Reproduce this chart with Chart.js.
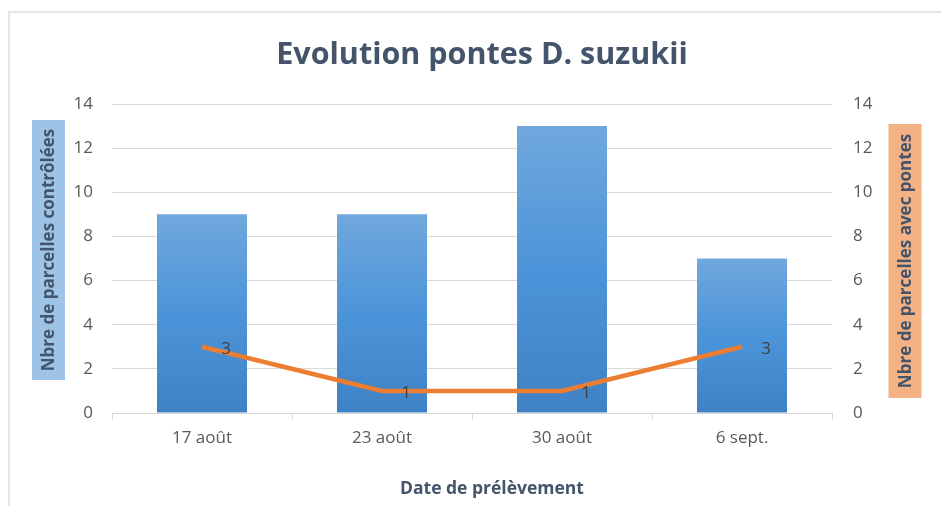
<!DOCTYPE html>
<html>
<head>
<meta charset="utf-8">
<script src="https://cdn.jsdelivr.net/npm/chart.js@4"></script>
<style>
    html, body { margin: 0; padding: 0; background: #fff; }
    #wrap { position: relative; width: 941px; height: 506px; overflow: hidden; }
    #frame { position: absolute; left: 8px; top: 11px; width: 960px; height: 520px; border: 2px solid #e2e5ea; }
    canvas { position: absolute; left: 0; top: 0; }
</style>
</head>
<body>
<div id="wrap">
    <div id="frame"></div>
    <canvas id="pontesChart" width="941" height="506"></canvas>
</div>
<script>
const dates = ['17 août', '23 août', '30 août', '6 sept.'];
const parcellesControlees = [9, 9, 13, 7];
const parcellesAvecPontes = [3, 1, 1, 3];
const yTicks = [0, 2, 4, 6, 8, 10, 12, 14];

const chartTitle = 'Evolution pontes D. suzukii';
const xTitle = 'Date de prélèvement';
const leftTitle = 'Nbre de parcelles contrôlées';
const rightTitle = 'Nbre de parcelles avec pontes';

const FONT = '"Open Sans", Lato, sans-serif';
const titleColor = '#44546A';
const tickColor = '#595959';
const gridColor = '#d9d9d9';

// titles, coloured axis-title boxes and the value labels of the line
const excelBits = {
    id: 'excelBits',
    beforeDraw(chart) {
        const c = chart.ctx;
        const area = chart.chartArea;
        c.save();
        c.fillStyle = titleColor;
        c.textAlign = 'center';
        c.textBaseline = 'alphabetic';
        c.font = 'bold 30.5px ' + FONT;
        c.fillText(chartTitle, 482, 64);
        c.font = 'bold 17.5px ' + FONT;
        c.fillText(xTitle, 492, 494);

        const drawBox = (text, cx, cy, h, bg) => {
            c.save();
            c.translate(cx, cy);
            c.rotate(-Math.PI / 2);
            c.font = 'bold 17px ' + FONT;
            c.fillStyle = bg;
            c.fillRect(-h / 2, -16.5, h, 33);
            c.fillStyle = titleColor;
            c.textAlign = 'center';
            c.textBaseline = 'middle';
            c.fillText(text, 0, 1);
            c.restore();
        };
        drawBox(leftTitle, area.left - 63.5, area.top + 146, 260, '#9DC3E6');
        drawBox(rightTitle, area.right + 73, area.top + 157, 274, '#F4B183');
        c.restore();
    },
    afterDatasetsDraw(chart) {
        const c = chart.ctx;
        const meta = chart.getDatasetMeta(1);
        c.save();
        c.fillStyle = '#404040';
        c.font = '17px ' + FONT;
        c.textAlign = 'center';
        c.textBaseline = 'middle';
        meta.data.forEach((pt, i) => {
            c.fillText(String(parcellesAvecPontes[i]), pt.x + 24, pt.y + 2);
        });
        c.restore();
    }
};

function barGradient(context) {
    const chart = context.chart;
    if (!chart.chartArea) return '#4a90d6';
    const y = chart.scales.y;
    const top = y.getPixelForValue(context.raw);
    const bottom = y.getPixelForValue(0);
    const g = chart.ctx.createLinearGradient(0, top, 0, bottom);
    g.addColorStop(0, '#70a8dd');
    g.addColorStop(0.5, '#4c94d9');
    g.addColorStop(1, '#3f82c5');
    return g;
}

const ctx = document.getElementById('pontesChart').getContext('2d');
new Chart(ctx, {
    type: 'bar',
    data: {
        labels: dates,
        datasets: [{
            type: 'bar',
            label: leftTitle,
            data: parcellesControlees,
            backgroundColor: barGradient,
            categoryPercentage: 1,
            barPercentage: 0.5,
            yAxisID: 'y',
            order: 1
        }, {
            type: 'line',
            label: rightTitle,
            data: parcellesAvecPontes,
            borderColor: '#ED7D31',
            borderWidth: 4.5,
            pointRadius: 0,
            tension: 0,
            yAxisID: 'y1',
            order: 0
        }]
    },
    options: {
        responsive: false,
        animation: false,
        layout: { padding: { top: 104 } },
        plugins: {
            legend: { display: false },
            tooltip: { enabled: false },
            title: { display: false }
        },
        scales: {
            x: {
                afterFit: s => { s.height = 93; },
                border: { color: gridColor, width: 1 },
                grid: { drawOnChartArea: false, drawTicks: true, tickLength: 7, offset: true, color: gridColor },
                ticks: { color: tickColor, font: { family: FONT, size: 17 }, padding: 8 }
            },
            y: {
                position: 'left',
                min: 0, max: 14,
                afterFit: s => { s.width = 112; },
                afterBuildTicks: s => { s.ticks = yTicks.map(v => ({ value: v })); },
                border: { display: false },
                grid: { color: gridColor, drawTicks: false },
                ticks: { color: tickColor, font: { family: FONT, size: 17 }, padding: 19 }
            },
            y1: {
                position: 'right',
                min: 0, max: 14,
                afterFit: s => { s.width = 109; },
                afterBuildTicks: s => { s.ticks = yTicks.map(v => ({ value: v })); },
                border: { display: false },
                grid: { drawOnChartArea: false, drawTicks: false },
                ticks: { color: tickColor, font: { family: FONT, size: 17 }, padding: 21 }
            }
        }
    },
    plugins: [excelBits]
});
</script>
</body>
</html>
